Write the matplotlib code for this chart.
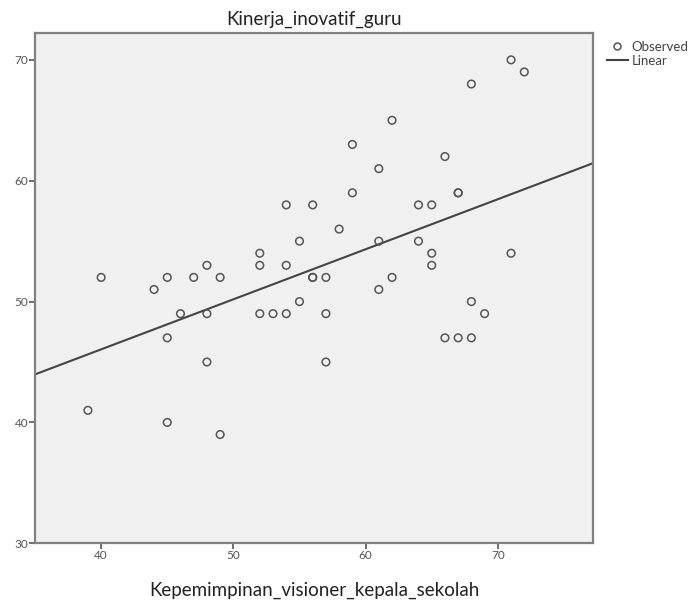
import numpy as np
import matplotlib
matplotlib.use("Agg")
import matplotlib.pyplot as plt
from matplotlib.lines import Line2D

# --------------------------------------------------------
# Data
# --------------------------------------------------------
kepemimpinan = [39, 40, 44, 45, 45, 45, 46, 47, 48, 48, 48, 49, 49,
                52, 52, 52, 53, 54, 54, 54, 55, 55, 56, 56, 56, 57, 57, 57,
                58, 59, 59, 61, 61, 61, 62, 62, 64, 64, 65, 65, 65,
                66, 66, 67, 67, 67, 68, 68, 68, 69, 71, 71, 72]
kinerja = [41, 52, 51, 52, 47, 40, 49, 52, 53, 49, 45, 52, 39,
           54, 53, 49, 49, 49, 53, 58, 55, 50, 58, 52, 52, 52, 49, 45,
           56, 63, 59, 61, 55, 51, 65, 52, 58, 55, 58, 54, 53,
           62, 47, 59, 59, 47, 68, 50, 47, 49, 70, 54, 69]

x_ticks = [40, 50, 60, 70]
y_ticks = [30, 40, 50, 60, 70]

plt.rcParams['font.family'] = ['Lato', 'DejaVu Sans']

# --------------------------------------------------------
# Figure
# --------------------------------------------------------
fig = plt.figure(figsize=(6.99, 6.05), dpi=100)
ax = fig.add_axes([0.0501, 0.102, 0.7983, 0.843])
ax.set_facecolor("#f0f0f0")

x = np.array(kepemimpinan, dtype=float)
y = np.array(kinerja, dtype=float)

ax.scatter(x, y, s=30, facecolors="none", edgecolors="#555555",
           linewidths=1.1, zorder=3)

# droite de regression sur toute la plage x
slope, intercept = np.polyfit(x, y, 1)
xlim = (35, 77.2)
xx = np.array(xlim)
ax.plot(xx, intercept + slope * xx, color="#444444", lw=1.5, zorder=2)

ax.set_xlim(xlim)
ax.set_ylim(30, 72.2)
ax.set_xticks(x_ticks)
ax.set_yticks(y_ticks)

for s in ax.spines.values():
    s.set_color("#808080")
    s.set_linewidth(1.6)

ax.tick_params(axis="both", direction="out", length=4, width=1.2,
               color="#555555", labelsize=8.5, labelcolor="#555555", pad=1)

ax.set_title("Kinerja_inovatif_guru", fontsize=13.5, color="#222222", pad=6)
ax.set_xlabel("Kepemimpinan_visioner_kepala_sekolah", fontsize=13.5,
              color="#222222", labelpad=15)

handles = [
    Line2D([], [], marker="o", ls="none", mfc="none", mec="#555555",
           ms=5, mew=1.1, label="Observed"),
    Line2D([], [], color="#444444", lw=1.5, label="Linear"),
]
fig.legend(handles=handles, loc="upper left", bbox_to_anchor=(0.868, 0.933),
           frameon=False, fontsize=9.5, handlelength=1.6, handletextpad=0.3,
           labelspacing=0.15, labelcolor="#444444", borderaxespad=0,
           borderpad=0)

fig.savefig("out.png", dpi=100, facecolor="white")
